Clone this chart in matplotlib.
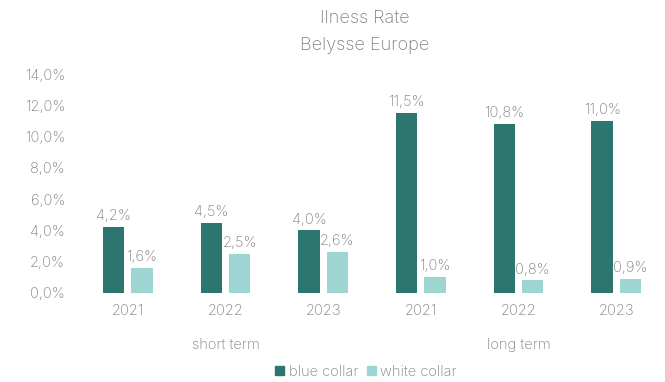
import matplotlib
matplotlib.use("Agg")
import matplotlib.pyplot as plt
import numpy as np
from matplotlib.patches import Patch

years = ["2021", "2022", "2023", "2021", "2022", "2023"]
groups = ["short term", "long term"]
blue_collar = [4.2, 4.5, 4.0, 11.5, 10.8, 11.0]
white_collar = [1.6, 2.5, 2.6, 1.0, 0.8, 0.9]
series_names = ["blue collar", "white collar"]
yticks = [0, 2, 4, 6, 8, 10, 12, 14]

dark = "#2D7670"
light = "#9DD5D2"
txt = "#808080"

plt.rcParams['font.family'] = ['Inter', 'DejaVu Sans']
fw = 'light'
fs = 10.5

fig = plt.figure(figsize=(6.65, 3.82), dpi=100)
ax = fig.add_axes([79/665, 1-293/382, 1-79/665, (293-74)/382])

x = np.arange(len(years))
w = 0.22
off = 0.145
ax.bar(x - off, blue_collar, w, color=dark)
ax.bar(x + off, white_collar, w, color=light)

def fmt(v):
    return f"{v:.1f}%".replace(".", ",")

for xi, v in zip(x, blue_collar):
    ax.text(xi - off, v + 0.25, fmt(v), ha="center", va="bottom", fontsize=fs, color=txt, fontweight=fw)
for xi, v in zip(x, white_collar):
    ax.text(xi + off, v + 0.25, fmt(v), ha="center", va="bottom", fontsize=fs, color=txt, fontweight=fw)

ax.set_xlim(-0.5, 5.5)
ax.set_ylim(0, 14)
ax.set_yticks(yticks)
ax.set_yticklabels([fmt(t) for t in yticks], fontsize=fs, color=txt, fontweight=fw)
ax.set_xticks(x)
ax.set_xticklabels(years, fontsize=fs, color=txt, fontweight=fw)
ax.tick_params(axis="both", length=0)
ax.tick_params(axis="x", pad=8)
ax.tick_params(axis="y", pad=10)
for s in ax.spines.values():
    s.set_visible(False)

for gi, g in enumerate(groups):
    cx = x[gi*3:(gi+1)*3].mean()
    ax.text(cx, -3.3, g, ha="center", va="center", fontsize=fs, color=txt,
            fontweight=fw, clip_on=False)

fig.text(365/665, 1-18/382, "Ilness Rate", ha="center", va="center", fontsize=13, color=txt, fontweight=fw)
fig.text(365/665, 1-45/382, "Belysse Europe", ha="center", va="center", fontsize=13, color=txt, fontweight=fw)

handles = [Patch(color=dark), Patch(color=light)]
leg = fig.legend(handles, series_names, loc="center", bbox_to_anchor=(366/665, 1-372/382),
           ncol=2, frameon=False, fontsize=fs, handlelength=0.6, handleheight=0.6,
           handletextpad=0.3, columnspacing=0.6, labelcolor=txt)
for t in leg.get_texts():
    t.set_fontweight(fw)

fig.savefig("out.png", dpi=100)
